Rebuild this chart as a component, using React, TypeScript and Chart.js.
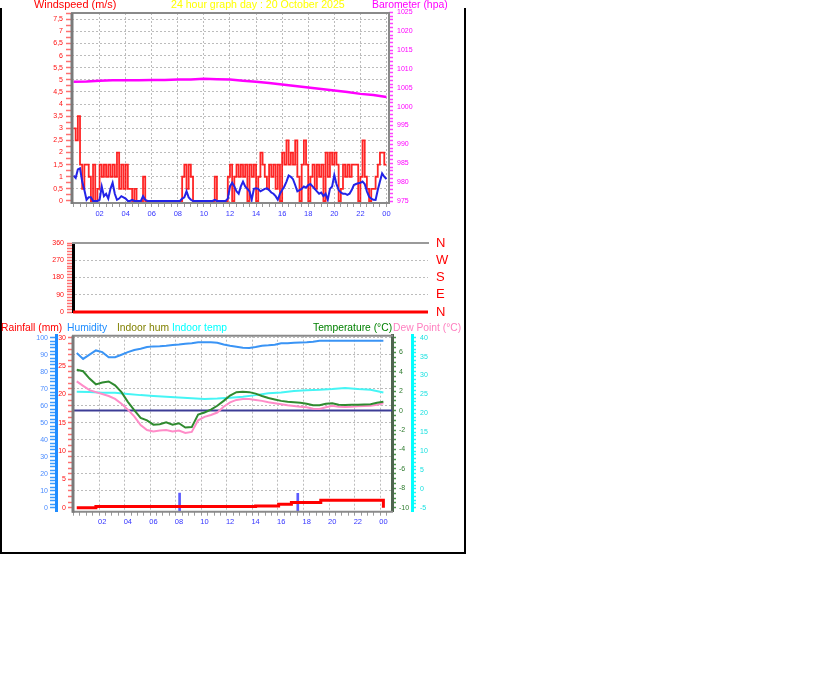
import React, { useEffect, useRef } from "react";
import { Chart, registerables } from "chart.js";
Chart.register(...registerables);

const FONT = "'Liberation Sans', Arial, sans-serif";
const GRID = "#bcbcbc";

// ---------- data ----------
// wind gust (m/s), every 10 minutes, rows = hours 00..23, then 24:00
const gust10 = [
  3.0, 2.5, 3.5, 1.5, 0.5, 1.5,
  1.5, 1.0, 0.0, 1.5, 0.0, 0.5,
  1.5, 1.0, 1.5, 1.0, 1.5, 1.0,
  1.5, 1.0, 2.0, 0.5, 1.5, 0.5,
  1.5, 0.5, 0.5, 0.0, 0.5, 0.0,
  0.0, 0.0, 1.0, 0.0, 0.0, 0.0,
  0.0, 0.0, 0.0, 0.0, 0.0, 0.0,
  0.0, 0.0, 0.0, 0.0, 0.0, 0.0,
  0.0, 0.0, 1.0, 1.5, 0.5, 1.5,
  1.0, 0.0, 0.0, 0.0, 0.0, 0.0,
  0.0, 0.0, 0.0, 0.0, 0.0, 1.0,
  0.0, 0.0, 0.0, 0.0, 0.0, 1.0,
  1.5, 0.0, 1.0, 1.5, 1.0, 1.5,
  1.0, 1.5, 0.0, 1.5, 1.0, 1.5,
  0.0, 1.0, 2.0, 1.5, 1.0, 0.5,
  1.5, 1.0, 1.5, 0.5, 1.5, 0.0,
  2.0, 1.5, 2.5, 1.5, 2.0, 1.5,
  2.5, 1.0, 0.0, 1.5, 2.5, 1.5,
  0.0, 1.0, 1.5, 0.5, 1.5, 1.0,
  1.5, 0.0, 2.0, 1.0, 2.0, 1.5,
  2.0, 1.5, 0.0, 0.5, 1.5, 1.0,
  1.5, 1.0, 1.5, 1.5, 1.5, 0.0,
  1.0, 2.5, 1.0, 0.5, 0.0, 0.5,
  0.5, 1.0, 1.5, 2.0, 2.0, 1.5,
  1.5,
];
// average wind (m/s), every 10 minutes
const avg10 = [
  1.05, 0.95, 1.3, 1.35, 0.8, 0.45,
  0.05, 0.15, 0.15, 0.0, 0.0, 0.0,
  0.05, 0.6, 0.2, 0.3, 0.1, 0.5,
  0.75, 0.3, 0.05, 0.1, 0.2, 0.15,
  0.1, 0.0, 0.0, 0.05, 0.0, 0.0,
  0.0, 0.0, 0.2, 0.05, 0.0, 0.0,
  0.0, 0.0, 0.0, 0.0, 0.0, 0.0,
  0.0, 0.0, 0.0, 0.0, 0.0, 0.0,
  0.0, 0.0, 0.1, 0.15, 0.4, 0.15,
  0.05, 0.0, 0.0, 0.0, 0.0, 0.0,
  0.0, 0.0, 0.0, 0.0, 0.0, 0.05,
  0.0, 0.0, 0.0, 0.0, 0.0, 0.1,
  0.6, 0.75, 0.6, 0.4, 0.3, 0.6,
  0.8, 0.6, 0.5, 0.4, 0.05, 0.5,
  0.52, 0.5, 0.4, 0.45, 0.5, 0.52,
  0.45, 0.35, 0.3, 0.2, 0.05, 0.3,
  0.45, 0.6, 0.8, 1.05, 1.0, 0.9,
  0.66, 0.4, 0.45, 0.5, 0.6, 0.55,
  0.66, 0.7, 0.6, 0.5, 0.4, 0.3,
  0.35, 0.2, 0.3, 0.05, 0.5, 0.6,
  1.07, 0.7, 0.45, 0.35, 0.3, 0.3,
  0.25, 0.3, 0.45, 0.66, 0.7, 0.73,
  0.75, 0.8, 0.7, 0.4, 0.18, 0.1,
  0.05, 0.04, 0.45, 0.8, 1.14, 1.0,
  0.9,
];
// barometer (hPa), hourly 00..24
const baroHourly = [
  1006.6, 1006.7, 1006.9, 1007.0, 1007.0, 1007.0, 1007.1, 1007.1, 1007.2, 1007.2,
  1007.4, 1007.3, 1007.2, 1006.9, 1006.6, 1006.3, 1005.9, 1005.5, 1005.1, 1004.7,
  1004.3, 1003.9, 1003.4, 1003.1, 1002.6,
];
// wind direction (degrees), hourly
const dirHourly = [
  0, 0, 0, 0, 0, 0, 0, 0, 0, 0, 0, 0, 0, 0, 0, 0, 0, 0, 0, 0, 0, 0, 0, 0, 0,
];
// humidity (%), half-hourly
const humHalf = [
  91, 87.5, 90, 92.5, 91.5, 88.5, 88.5, 90, 91.5, 92.8,
  93.5, 94.5, 94.9, 95, 95.3, 95.7, 96, 96.5, 96.8, 97.3,
  97.3, 97.3, 97, 96, 95.3, 94.7, 94.1, 94, 94.5, 95.3,
  95.5, 95.8, 96.7, 96.8, 97.1, 97.2, 97.3, 97.6, 98.2, 98.2,
  98.2, 98.2, 98.2, 98.2, 98.2, 98.2, 98.2, 98.2, 98.2,
];
// outdoor temperature (°C), half-hourly
const tempHalf = [
  4.2, 4.05, 3.3, 2.7, 2.9, 3.0, 2.6, 1.9, 0.9, 0.05,
  -0.75, -1.0, -1.45, -1.4, -1.2, -1.45, -1.3, -1.75, -1.7, -0.4,
  -0.2, 0.1, 0.5, 1.0, 1.55, 1.9, 1.95, 1.9, 1.75, 1.5,
  1.3, 1.15, 1.0, 0.9, 0.85, 0.8, 0.7, 0.55, 0.55, 0.7,
  0.75, 0.6, 0.58, 0.6, 0.6, 0.62, 0.65, 0.8, 0.9,
];
// dew point (°C), half-hourly
const dewHalf = [
  3.0, 2.55, 2.1, 1.9, 1.7, 1.5, 1.2, 0.7, 0.1, -0.6,
  -1.5, -2.0, -2.15, -2.05, -2.0, -2.15, -2.05, -2.3, -2.2, -1.0,
  -0.65, -0.45, -0.2, 0.4, 0.85, 1.1, 1.2, 1.2, 1.1, 1.0,
  0.85, 0.75, 0.65, 0.55, 0.47, 0.4, 0.34, 0.2, 0.16, 0.35,
  0.5, 0.4, 0.37, 0.4, 0.45, 0.48, 0.5, 0.6, 0.75,
];
// indoor temperature (°C), hourly
const indoorHourly = [
  25.7, 25.6, 25.4, 25.4, 25.1, 24.8, 24.6, 24.4, 24.2, 24.0,
  23.8, 23.9, 24.1, 24.4, 24.8, 25.3, 25.5, 25.9, 26.1, 26.2,
  26.4, 26.7, 26.4, 26.2, 25.5,
];
// rainfall (mm, cumulative) steps
const rainHours = [0, 1.5, 14, 15.8, 16.8, 19.1, 24, 24];
const rainMm = [0, 0.2, 0.3, 0.6, 0.9, 1.3, 1.3, 0];
// rain-rate markers
const rateHours = [8.05, 17.3];
const rateLow = [-0.7, -0.7];
const rateHigh = [2.6, 2.55];

// ---------- helpers ----------
const mkTicks = (from: number, to: number, step: number) => {
  const n = Math.round((to - from) / step);
  return Array.from({ length: n + 1 }, (_, i) => ({
    value: Math.round((from + i * step) * 1000) / 1000,
  }));
};
const isMult = (v: number, s: number) => Math.abs(v / s - Math.round(v / s)) < 1e-6;
const comma = (v: number) => String(v).replace(".", ",");
const hh = (v: number) => String(Math.round(v) % 24).padStart(2, "0");
const series = (arr: number[], per: number) => arr.map((y, i) => ({ x: i / per, y }));
const tv = (c: any) => (c && c.tick ? c.tick.value : NaN);
const TICK_FONT = { size: 7, family: FONT };

type Side = [string, number] | undefined;
const framePlugin = (id: string, s: { top?: Side; right?: Side; bottom?: Side; left?: Side }) => ({
  id,
  afterDraw(chart: any) {
    const { ctx, chartArea: a } = chart;
    ctx.save();
    ctx.setLineDash([]);
    const line = (sd: Side, x1: number, y1: number, x2: number, y2: number) => {
      if (!sd) return;
      ctx.strokeStyle = sd[0];
      ctx.lineWidth = sd[1];
      ctx.beginPath();
      ctx.moveTo(x1, y1);
      ctx.lineTo(x2, y2);
      ctx.stroke();
    };
    line(s.top, a.left - 1, a.top, a.right + 1, a.top);
    line(s.bottom, a.left - 1, a.bottom, a.right + 1, a.bottom);
    line(s.left, a.left, a.top, a.left, a.bottom + 1);
    line(s.right, a.right, a.top, a.right, a.bottom + 1);
    ctx.restore();
  },
});

const xAxis = (min: number, max: number, height: number) => ({
  type: "linear",
  position: "bottom",
  min,
  max,
  afterBuildTicks: (sc: any) => {
    sc.ticks = mkTicks(0, 24, 0.5);
  },
  afterFit: (sc: any) => {
    sc.height = height;
  },
  ticks: {
    autoSkip: false,
    maxRotation: 0,
    minRotation: 0,
    color: "#3535ff",
    padding: 2,
    font: { size: 7.5, family: FONT },
    callback: (v: number) => (v > 0 && isMult(v, 2) ? hh(v) : ""),
  },
  grid: {
    color: (c: any) => (tv(c) > 0 && isMult(tv(c), 2) ? GRID : "rgba(0,0,0,0)"),
    lineWidth: 1,
    tickColor: "#9a9a9a",
    tickLength: 4,
  },
  border: { display: false, dash: [2, 2] },
});

const baseOpts = {
  responsive: false,
  maintainAspectRatio: false,
  animation: false,
  events: [],
  plugins: { legend: { display: false }, tooltip: { enabled: false } },
  elements: { point: { radius: 0 } },
};

// ---------- chart configs ----------
const topConfig = (): any => ({
  type: "line",
  data: {
    datasets: [
      {
        data: series(avg10, 6),
        yAxisID: "wind",
        borderColor: "#2323e8",
        borderWidth: 2,
        pointRadius: 0,
      },
      {
        data: series(gust10, 6),
        yAxisID: "wind",
        borderColor: "rgba(255,0,0,0.85)",
        borderWidth: 1.8,
        stepped: true,
        pointRadius: 0,
      },
      {
        data: series(baroHourly, 1),
        yAxisID: "baro",
        borderColor: "#ff00ff",
        borderWidth: 2.5,
        pointRadius: 0,
      },
    ],
  },
  options: {
    ...baseOpts,
    layout: { padding: { top: 13, left: 0, right: 0, bottom: 0 } },
    scales: {
      x: xAxis(-0.115, 24.195, 25),
      wind: {
        type: "linear",
        position: "left",
        min: -0.083,
        max: 7.76,
        afterBuildTicks: (sc: any) => {
          sc.ticks = mkTicks(0, 7.75, 0.25);
        },
        afterFit: (sc: any) => {
          sc.width = 72;
        },
        ticks: {
          autoSkip: false,
          color: "#ff1010",
          padding: 3,
          font: TICK_FONT,
          callback: (v: number) => (isMult(v, 0.5) ? comma(v) : ""),
        },
        grid: {
          color: (c: any) => (tv(c) > 0 && isMult(tv(c), 0.5) ? GRID : "rgba(0,0,0,0)"),
          lineWidth: 1,
          tickColor: "#ff7070",
          tickLength: 6,
          tickWidth: 1.5,
        },
        border: { display: false, dash: [2, 2] },
      },
      baro: {
        type: "linear",
        position: "right",
        min: 974.47,
        max: 1024.84,
        afterBuildTicks: (sc: any) => {
          sc.ticks = mkTicks(975, 1025, 1);
        },
        afterFit: (sc: any) => {
          sc.width = 77;
        },
        ticks: {
          autoSkip: false,
          color: "#ff00ff",
          padding: 4,
          font: TICK_FONT,
          callback: (v: number) => (isMult(v, 5) ? String(v) : ""),
        },
        grid: { drawOnChartArea: false, tickColor: "#ff40ff", tickLength: 4, tickWidth: 1.5 },
        border: { display: false },
      },
    },
  },
  plugins: [
    framePlugin("frameTop", {
      top: ["#8a8a8a", 2],
      right: ["#8a8a8a", 2],
      bottom: ["#8a8a8a", 2],
      left: ["#7a7a7a", 3],
    }),
  ],
});

const midConfig = (): any => ({
  type: "line",
  data: {
    datasets: [
      {
        data: series(dirHourly, 1),
        yAxisID: "dir",
        borderColor: "#ff0000",
        borderWidth: 3,
        pointRadius: 0,
        clip: false,
      },
    ],
  },
  options: {
    ...baseOpts,
    layout: { padding: { top: 13, left: 0, right: 0, bottom: 8 } },
    scales: {
      x: { type: "linear", display: false, min: 0, max: 24 },
      dir: {
        type: "linear",
        position: "left",
        min: 0,
        max: 360,
        afterBuildTicks: (sc: any) => {
          sc.ticks = mkTicks(0, 360, 15);
        },
        afterFit: (sc: any) => {
          sc.width = 73;
        },
        ticks: {
          autoSkip: false,
          color: "#ff1010",
          padding: 3,
          font: TICK_FONT,
          callback: (v: number) => (isMult(v, 90) ? String(v) : ""),
        },
        grid: {
          color: (c: any) =>
            tv(c) > 0 && tv(c) < 360 && isMult(tv(c), 90) ? GRID : "rgba(0,0,0,0)",
          lineWidth: 1,
          tickColor: "#ff7070",
          tickLength: 6,
          tickWidth: 1.5,
        },
        border: { display: true, color: "#000000", width: 3, dash: [2, 2] },
      },
      compass: {
        type: "linear",
        position: "right",
        min: 0,
        max: 360,
        afterBuildTicks: (sc: any) => {
          sc.ticks = mkTicks(0, 360, 90);
        },
        afterFit: (sc: any) => {
          sc.width = 38;
        },
        ticks: {
          autoSkip: false,
          color: "#ff0000",
          padding: 0,
          font: { size: 13, family: FONT },
          callback: (v: number) => ({ 0: "N", 90: "E", 180: "S", 270: "W", 360: "N" } as any)[v] ?? "",
        },
        grid: {
          display: true,
          drawOnChartArea: false,
          drawTicks: true,
          tickLength: 8,
          tickColor: "rgba(0,0,0,0)",
        },
        border: { display: false },
      },
    },
  },
  plugins: [framePlugin("frameMid", { top: ["#9a9a9a", 2] })],
});

const bottomConfig = (): any => ({
  type: "line",
  data: {
    datasets: [
      {
        data: rainHours.map((x, i) => ({ x, y: rainMm[i] })),
        yAxisID: "rain",
        borderColor: "#ff0000",
        borderWidth: 3,
        stepped: true,
        pointRadius: 0,
      },
      {
        type: "bar",
        data: rateHours.map((x, i) => ({ x, y: [rateLow[i], rateHigh[i]] })),
        yAxisID: "rain",
        backgroundColor: "#5b5bff",
        barThickness: 2,
      },
      {
        data: series(tempHalf, 2),
        yAxisID: "temp",
        borderColor: "#2f8a2f",
        borderWidth: 2,
        pointRadius: 0,
      },
      {
        data: series(dewHalf, 2),
        yAxisID: "temp",
        borderColor: "#ff8cc8",
        borderWidth: 2,
        pointRadius: 0,
      },
      {
        data: series(indoorHourly, 1),
        yAxisID: "indoor",
        borderColor: "#45f5f5",
        borderWidth: 2,
        pointRadius: 0,
      },
      {
        data: series(humHalf, 2),
        yAxisID: "hum",
        borderColor: "#3a94f5",
        borderWidth: 2,
        pointRadius: 0,
      },
    ],
  },
  options: {
    ...baseOpts,
    layout: { padding: { top: 13.7, left: 0, right: 0, bottom: 0 } },
    scales: {
      x: xAxis(-0.038, 24.42, 23.3),
      rain: {
        type: "linear",
        position: "left",
        weight: 0,
        min: -0.705,
        max: 30.35,
        afterBuildTicks: (sc: any) => {
          sc.ticks = mkTicks(0, 30, 1);
        },
        afterFit: (sc: any) => {
          sc.width = 17;
        },
        ticks: {
          autoSkip: false,
          color: "#ff1010",
          padding: 2,
          font: TICK_FONT,
          callback: (v: number) => (isMult(v, 5) ? String(v) : ""),
        },
        grid: {
          color: (c: any) => (tv(c) > 0 && isMult(tv(c), 3) ? GRID : "rgba(0,0,0,0)"),
          lineWidth: 1,
          tickColor: "#ff7070",
          tickLength: 5,
          tickWidth: 1.5,
        },
        border: { display: false, dash: [2, 2] },
      },
      hum: {
        type: "linear",
        position: "left",
        weight: 1,
        min: -2.35,
        max: 101.18,
        afterBuildTicks: (sc: any) => {
          sc.ticks = mkTicks(0, 100, 2);
        },
        afterFit: (sc: any) => {
          sc.width = 56;
        },
        ticks: {
          autoSkip: false,
          color: "#4b8cff",
          padding: 2,
          font: TICK_FONT,
          callback: (v: number) => (isMult(v, 10) ? String(v) : ""),
        },
        grid: {
          drawOnChartArea: false,
          tickColor: "#3c9cff",
          tickLength: 6,
          tickWidth: 1.5,
        },
        border: { display: true, color: "#1e8cff", width: 3 },
      },
      temp: {
        type: "linear",
        position: "right",
        weight: 0,
        min: -10.41,
        max: 7.71,
        afterBuildTicks: (sc: any) => {
          sc.ticks = mkTicks(-10, 7.5, 0.5);
        },
        afterFit: (sc: any) => {
          sc.width = 20;
        },
        ticks: {
          autoSkip: false,
          color: "#2c7a2c",
          padding: 3,
          font: TICK_FONT,
          callback: (v: number) => (isMult(v, 2) ? String(v) : ""),
        },
        grid: {
          drawOnChartArea: false,
          tickColor: "#4a9a4a",
          tickLength: 4,
          tickWidth: 1.5,
        },
        border: { display: true, color: "#4f654f", width: 3 },
      },
      indoor: {
        type: "linear",
        position: "right",
        weight: 1,
        min: -6.06,
        max: 40.53,
        afterBuildTicks: (sc: any) => {
          sc.ticks = mkTicks(-5, 40, 1);
        },
        afterFit: (sc: any) => {
          sc.width = 54;
        },
        ticks: {
          autoSkip: false,
          color: "#18e0e0",
          padding: 4,
          font: TICK_FONT,
          callback: (v: number) => (isMult(v, 5) ? String(v) : ""),
        },
        grid: {
          drawOnChartArea: false,
          tickColor: "#30f0f0",
          tickLength: 4,
          tickWidth: 1.5,
        },
        border: { display: true, color: "#00ffff", width: 3 },
      },
    },
  },
  plugins: [
    {
      id: "freezeLine",
      beforeDatasetsDraw(chart: any) {
        const { ctx, chartArea: a } = chart;
        const y = chart.scales.temp.getPixelForValue(0);
        ctx.save();
        ctx.strokeStyle = "#3c3c96";
        ctx.lineWidth = 2;
        ctx.beginPath();
        ctx.moveTo(a.left, y);
        ctx.lineTo(a.right, y);
        ctx.stroke();
        ctx.restore();
      },
    },
    framePlugin("frameBottom", {
      top: ["#8a8a8a", 2],
      bottom: ["#8a8a8a", 2],
      left: ["#7a7a7a", 3],
    }),
  ],
});

// ---------- components ----------
function ChartCanvas(props: { make: () => any; left: number; top: number; width: number; height: number }) {
  const ref = useRef<HTMLCanvasElement>(null);
  useEffect(() => {
    const chart = new Chart(ref.current as HTMLCanvasElement, props.make());
    return () => chart.destroy();
  }, []);
  return (
    <canvas
      ref={ref}
      width={props.width}
      height={props.height}
      style={{
        position: "absolute",
        left: props.left,
        top: props.top,
        width: props.width,
        height: props.height,
      }}
    />
  );
}

const Label = (p: { x: number; y: number; color: string; children: React.ReactNode; size?: number }) => (
  <div
    style={{
      position: "absolute",
      left: p.x,
      top: p.y,
      color: p.color,
      fontFamily: FONT,
      fontSize: p.size ?? 10.3,
      lineHeight: "13px",
      whiteSpace: "nowrap",
    }}
  >
    {p.children}
  </div>
);

export default function App() {
  return (
    <div
      style={{
        position: "absolute",
        left: 0,
        top: 0,
        width: 816,
        height: 683,
        background: "#ffffff",
        overflow: "hidden",
      }}
    >
      <div
        style={{
          position: "absolute",
          left: 0,
          top: 8,
          width: 466,
          height: 546,
          boxSizing: "border-box",
          borderLeft: "2px solid #000",
          borderRight: "2px solid #000",
          borderBottom: "2px solid #000",
        }}
      />
      <ChartCanvas make={topConfig} left={0} top={0} width={466} height={228} />
      <ChartCanvas make={midConfig} left={0} top={230} width={466} height={90} />
      <ChartCanvas make={bottomConfig} left={0} top={322} width={466} height={213} />

      <Label x={34} y={-2} color="#ff0000" size={10.9}>Windspeed (m/s)</Label>
      <Label x={171} y={-2} color="#ffff00" size={10.6}>24 hour graph day : 20 October 2025</Label>
      <Label x={372} y={-2} color="#ff00ff" size={10.4}>Barometer (hpa)</Label>

      <Label x={1} y={321} color="#ff0000">Rainfall (mm)</Label>
      <Label x={67} y={321} color="#1e8cff">Humidity</Label>
      <Label x={117} y={321} color="#808000">Indoor hum</Label>
      <Label x={172} y={321} color="#00ffff">Indoor temp</Label>
      <Label x={313} y={321} color="#008000">Temperature (°C)</Label>
      <Label x={393} y={321} color="#ff80c0">Dew Point (°C)</Label>
    </div>
  );
}
